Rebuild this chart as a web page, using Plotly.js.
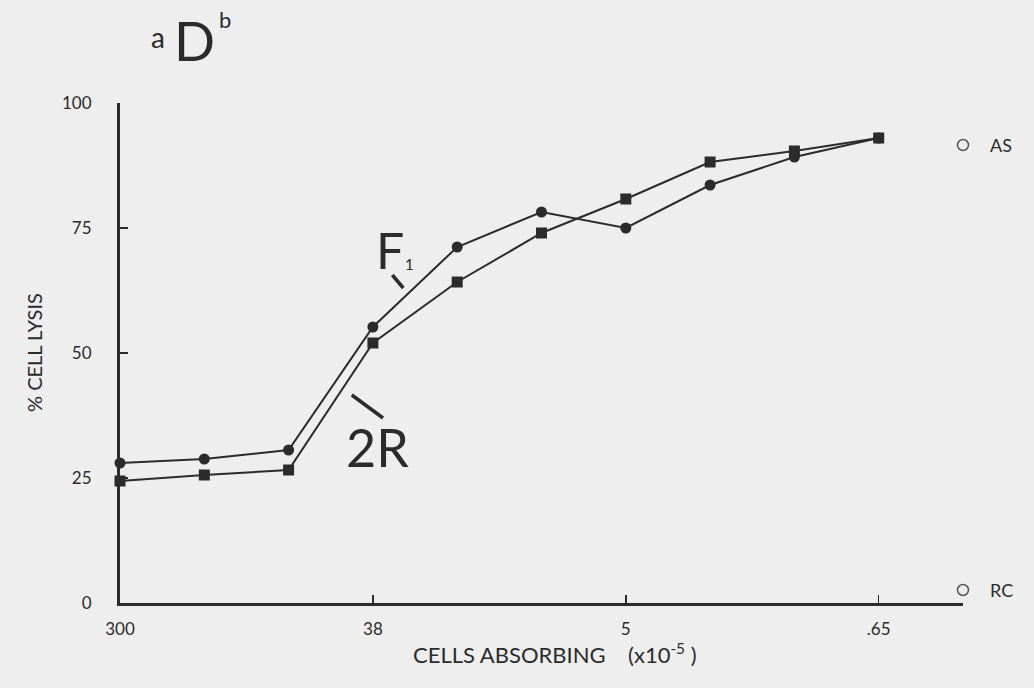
<!DOCTYPE html>
<html>
<head>
<meta charset="utf-8">
<script src="https://cdn.plot.ly/plotly-3.0.1.min.js"></script>
<style>
  html, body { margin: 0; padding: 0; background: #eeeeee; }
  #chart { width: 1034px; height: 688px; }
</style>
</head>
<body>
<div id="chart"></div>
<script>
// Dilution steps along the x axis (10 steps), labelled every third step
const steps = [0, 1, 2, 3, 4, 5, 6, 7, 8, 9];
const tickSteps = [0, 3, 6, 9];
const tickLabels = ['300', '38', '5', '.65'];
const yTicks = [0, 25, 50, 75, 100];

// % cell lysis for the two sera
const lysisF1 = [28, 28.8, 30.6, 55.2, 71.2, 78.2, 75, 83.6, 89.2, 93];
const lysis2R = [24.4, 25.6, 26.6, 52, 64.2, 74, 80.8, 88.2, 90.4, 93];

// Controls shown at the right end of the axis
const controlNames = ['AS', 'RC'];
const controlValues = [91.6, 2.6];
const controlStep = 10;

const ink = '#2b2b2b';
const font = 'Lato, "Noto Sans", sans-serif';

const traces = [
  {
    x: steps, y: lysisF1, name: 'F1', mode: 'lines+markers',
    line: { color: ink, width: 2 },
    marker: { symbol: 'circle', size: 11, color: ink },
    cliponaxis: false
  },
  {
    x: steps, y: lysis2R, name: '2R', mode: 'lines+markers',
    line: { color: ink, width: 2 },
    marker: { symbol: 'square', size: 11, color: ink },
    cliponaxis: false
  },
  {
    x: controlNames.map(() => controlStep), y: controlValues, mode: 'markers',
    marker: { symbol: 'circle-open', size: 11, color: '#555', line: { width: 1.5 } },
    cliponaxis: false
  }
];

const annotations = [
  // panel heading
  { xref: 'paper', yref: 'paper', x: 0.034, y: 1.17, text: 'a', showarrow: false,
    font: { family: font, size: 28, color: ink } },
  { xref: 'paper', yref: 'paper', x: 0.062, y: 1.194, text: 'D', showarrow: false,
    font: { family: font, size: 54, color: ink } },
  { xref: 'paper', yref: 'paper', x: 0.1145, y: 1.197, text: 'b', showarrow: false,
    font: { family: font, size: 22, color: ink } },
  // series labels
  { xref: 'x', yref: 'y', x: 3.2, y: 70.6, text: 'F', showarrow: false,
    font: { family: font, size: 50, color: ink } },
  { xref: 'x', yref: 'y', x: 3.43, y: 67.8, text: '1', showarrow: false,
    font: { family: font, size: 15, color: ink } },
  { xref: 'x', yref: 'y', x: 3.06, y: 31.2, text: '2R', showarrow: false,
    font: { family: font, size: 52, color: ink } },
  // axis titles
  { xref: 'paper', yref: 'paper', x: 0.516, y: -0.134,
    text: 'CELLS ABSORBING&nbsp;&nbsp;&nbsp;&nbsp;(x10<sup>-5</sup> )',
    showarrow: false, font: { family: font, size: 22, color: ink } },
  { xref: 'paper', yref: 'paper', x: -0.102, y: 0.5, xanchor: 'center', text: '% CELL LYSIS', textangle: -90,
    showarrow: false, font: { family: font, size: 20, color: ink } }
];

// control labels
controlNames.forEach((name, i) => {
  annotations.push({
    xref: 'x', yref: 'y', x: controlStep, y: controlValues[i], text: name,
    xanchor: 'left', xshift: 25, showarrow: false,
    font: { family: font, size: 18, color: ink }
  });
});

const shapes = [
  // leader strokes from labels to curves
  { type: 'line', xref: 'x', yref: 'y', x0: 3.23, y0: 65.6, x1: 3.36, y1: 63,
    line: { color: ink, width: 3.5 } },
  { type: 'line', xref: 'x', yref: 'y', x0: 2.75, y0: 41.6, x1: 3.12, y1: 37,
    line: { color: ink, width: 3.5 } }
];

const layout = {
  width: 1034, height: 688,
  margin: { l: 120, r: 71, t: 103, b: 85 },
  paper_bgcolor: '#eeeeee', plot_bgcolor: '#eeeeee',
  showlegend: false,
  font: { family: font, color: ink, size: 16 },
  xaxis: {
    range: [0, 10], tickvals: tickSteps, ticktext: tickLabels,
    showgrid: false, zeroline: false,
    showline: true, linecolor: ink, linewidth: 3,
    ticks: 'inside', ticklen: 8, tickwidth: 1.5, tickcolor: ink,
    ticklabelstandoff: 9,
    tickfont: { family: font, size: 17, color: ink }
  },
  yaxis: {
    range: [0, 100], tickvals: yTicks,
    showgrid: false, zeroline: false,
    showline: true, linecolor: ink, linewidth: 3,
    ticks: 'inside', ticklen: 8, tickwidth: 1.5, tickcolor: ink,
    ticklabelstandoff: 22,
    tickfont: { family: font, size: 17, color: ink }
  },
  annotations: annotations,
  shapes: shapes
};

Plotly.newPlot('chart', traces, layout, { displayModeBar: false, staticPlot: true });
</script>
</body>
</html>
